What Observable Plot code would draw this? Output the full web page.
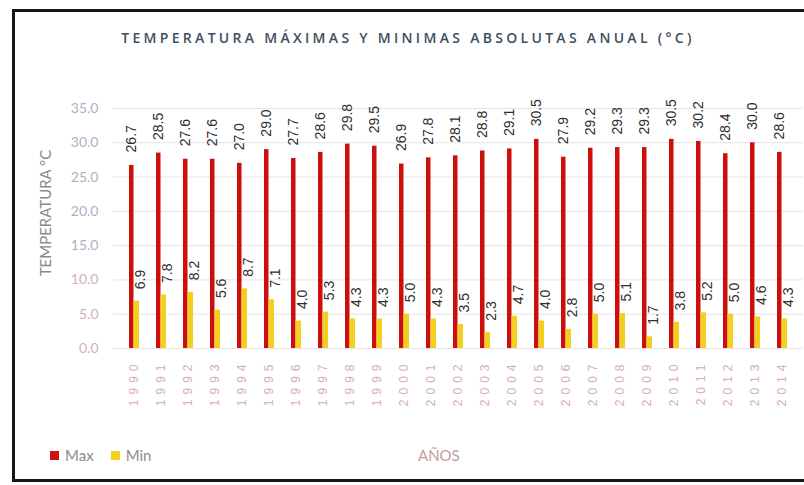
<!DOCTYPE html>
<html><head><meta charset="utf-8">
<script src="https://cdn.jsdelivr.net/npm/d3@7"></script>
<script src="https://cdn.jsdelivr.net/npm/@observablehq/plot@0.6"></script>
<style>
body{margin:0;background:#fff;}
#wrap{position:relative;width:804px;height:485px;overflow:hidden;font-family:Lato,"Open Sans",sans-serif;background:#fff;}
#frame{position:absolute;left:12px;top:9px;width:800px;height:467px;border-top:3px solid #161616;border-left:3px solid #161616;border-bottom:3px solid #161616;}
#chart{position:absolute;left:0;top:0;}
#title{position:absolute;left:6px;width:804px;top:28px;text-align:center;font-family:"Open Sans",sans-serif;font-weight:600;font-size:14px;letter-spacing:3.3px;color:#3e4f5e;white-space:nowrap;}
#ytitle{position:absolute;left:45px;top:213px;transform:translate(-50%,-50%) rotate(-90deg);font-size:15px;color:#8a8a8a;white-space:nowrap;}
#legend{position:absolute;left:50px;top:446px;font-size:15px;color:#8c8c8c;display:flex;align-items:center;white-space:nowrap;}
#legend .sw{display:inline-block;width:9px;height:9px;margin-right:6px;}
#xtitle{position:absolute;left:418px;top:446px;font-size:15px;color:#c29c9c;}
g[aria-label="x-axis tick label"] text{letter-spacing:5px;}
</style>
</head><body>
<div id="wrap">
  <div id="frame"></div>
  <div id="chart"></div>
  <div id="title">TEMPERATURA MÁXIMAS Y MINIMAS ABSOLUTAS ANUAL (°C)</div>
  <div id="ytitle">TEMPERATURA °C</div>
  <div id="legend"><span class="sw" style="background:#d0100e"></span><span>Max</span><span class="sw" style="background:#f3cf1e;margin-left:17px"></span><span>Min</span></div>
  <div id="xtitle">AÑOS</div>
</div>
<script>
const years = ["1990","1991","1992","1993","1994","1995","1996","1997","1998","1999","2000","2001","2002","2003","2004","2005","2006","2007","2008","2009","2010","2011","2012","2013","2014"];
const maxVals = [26.7,28.5,27.6,27.6,27.0,29.0,27.7,28.6,29.8,29.5,26.9,27.8,28.1,28.8,29.1,30.5,27.9,29.2,29.3,29.3,30.5,30.2,28.4,30.0,28.6];
const minVals = [6.9,7.8,8.2,5.6,8.7,7.1,4.0,5.3,4.3,4.3,5.0,4.3,3.5,2.3,4.7,4.0,2.8,5.0,5.1,1.7,3.8,5.2,5.0,4.6,4.3];
const yTicks = [0,5,10,15,20,25,30,35];

const rows = years.map((y,i)=>({year:y, max:maxVals[i], min:minVals[i]}));
const fmt = d3.format(".1f");

const plot = Plot.plot({
  width: 804,
  height: 485,
  marginTop: 108,
  marginBottom: 137,
  marginLeft: 113,
  marginRight: 1,
  style: {background: "transparent", fontFamily: "Liberation Sans, Arial, sans-serif"},
  x: {type: "band", domain: years, paddingInner: 0.635, paddingOuter: 0.38},
  y: {domain: [0, 35]},
  marks: [
    Plot.gridY(yTicks, {stroke: "#e4e4e4", strokeOpacity: 1}),
    Plot.axisY(yTicks, {tickSize: 0, tickPadding: 15, tickFormat: fmt, fontSize: 14, fontFamily: "Lato, sans-serif",
      fill: d => d >= 15 ? "#a9b3c4" : "#d3b1b5", label: null}),
    Plot.axisX({tickSize: 0, tickPadding: 11, tickRotate: -90, fontSize: 12, fill: "#d6aeae", label: null}),
    Plot.barY(rows, {x: "year", y: "max", fill: "#cc0f0d", insetRight: 5.5}),
    Plot.barY(rows, {x: "year", y: "min", fill: "#f3cf1e", insetLeft: 4.5}),
    Plot.text(rows, {x: "year", y: "max", text: d => fmt(d.max), rotate: -90, textAnchor: "start", dx: -2.5, dy: -13, fontSize: 14, fill: "#2e2e2e"}),
    Plot.text(rows, {x: "year", y: "min", text: d => fmt(d.min), rotate: -90, textAnchor: "start", dx: 6, dy: -12, fontSize: 14, fill: "#2e2e2e"})
  ]
});
document.getElementById("chart").appendChild(plot);
</script>
</body></html>
